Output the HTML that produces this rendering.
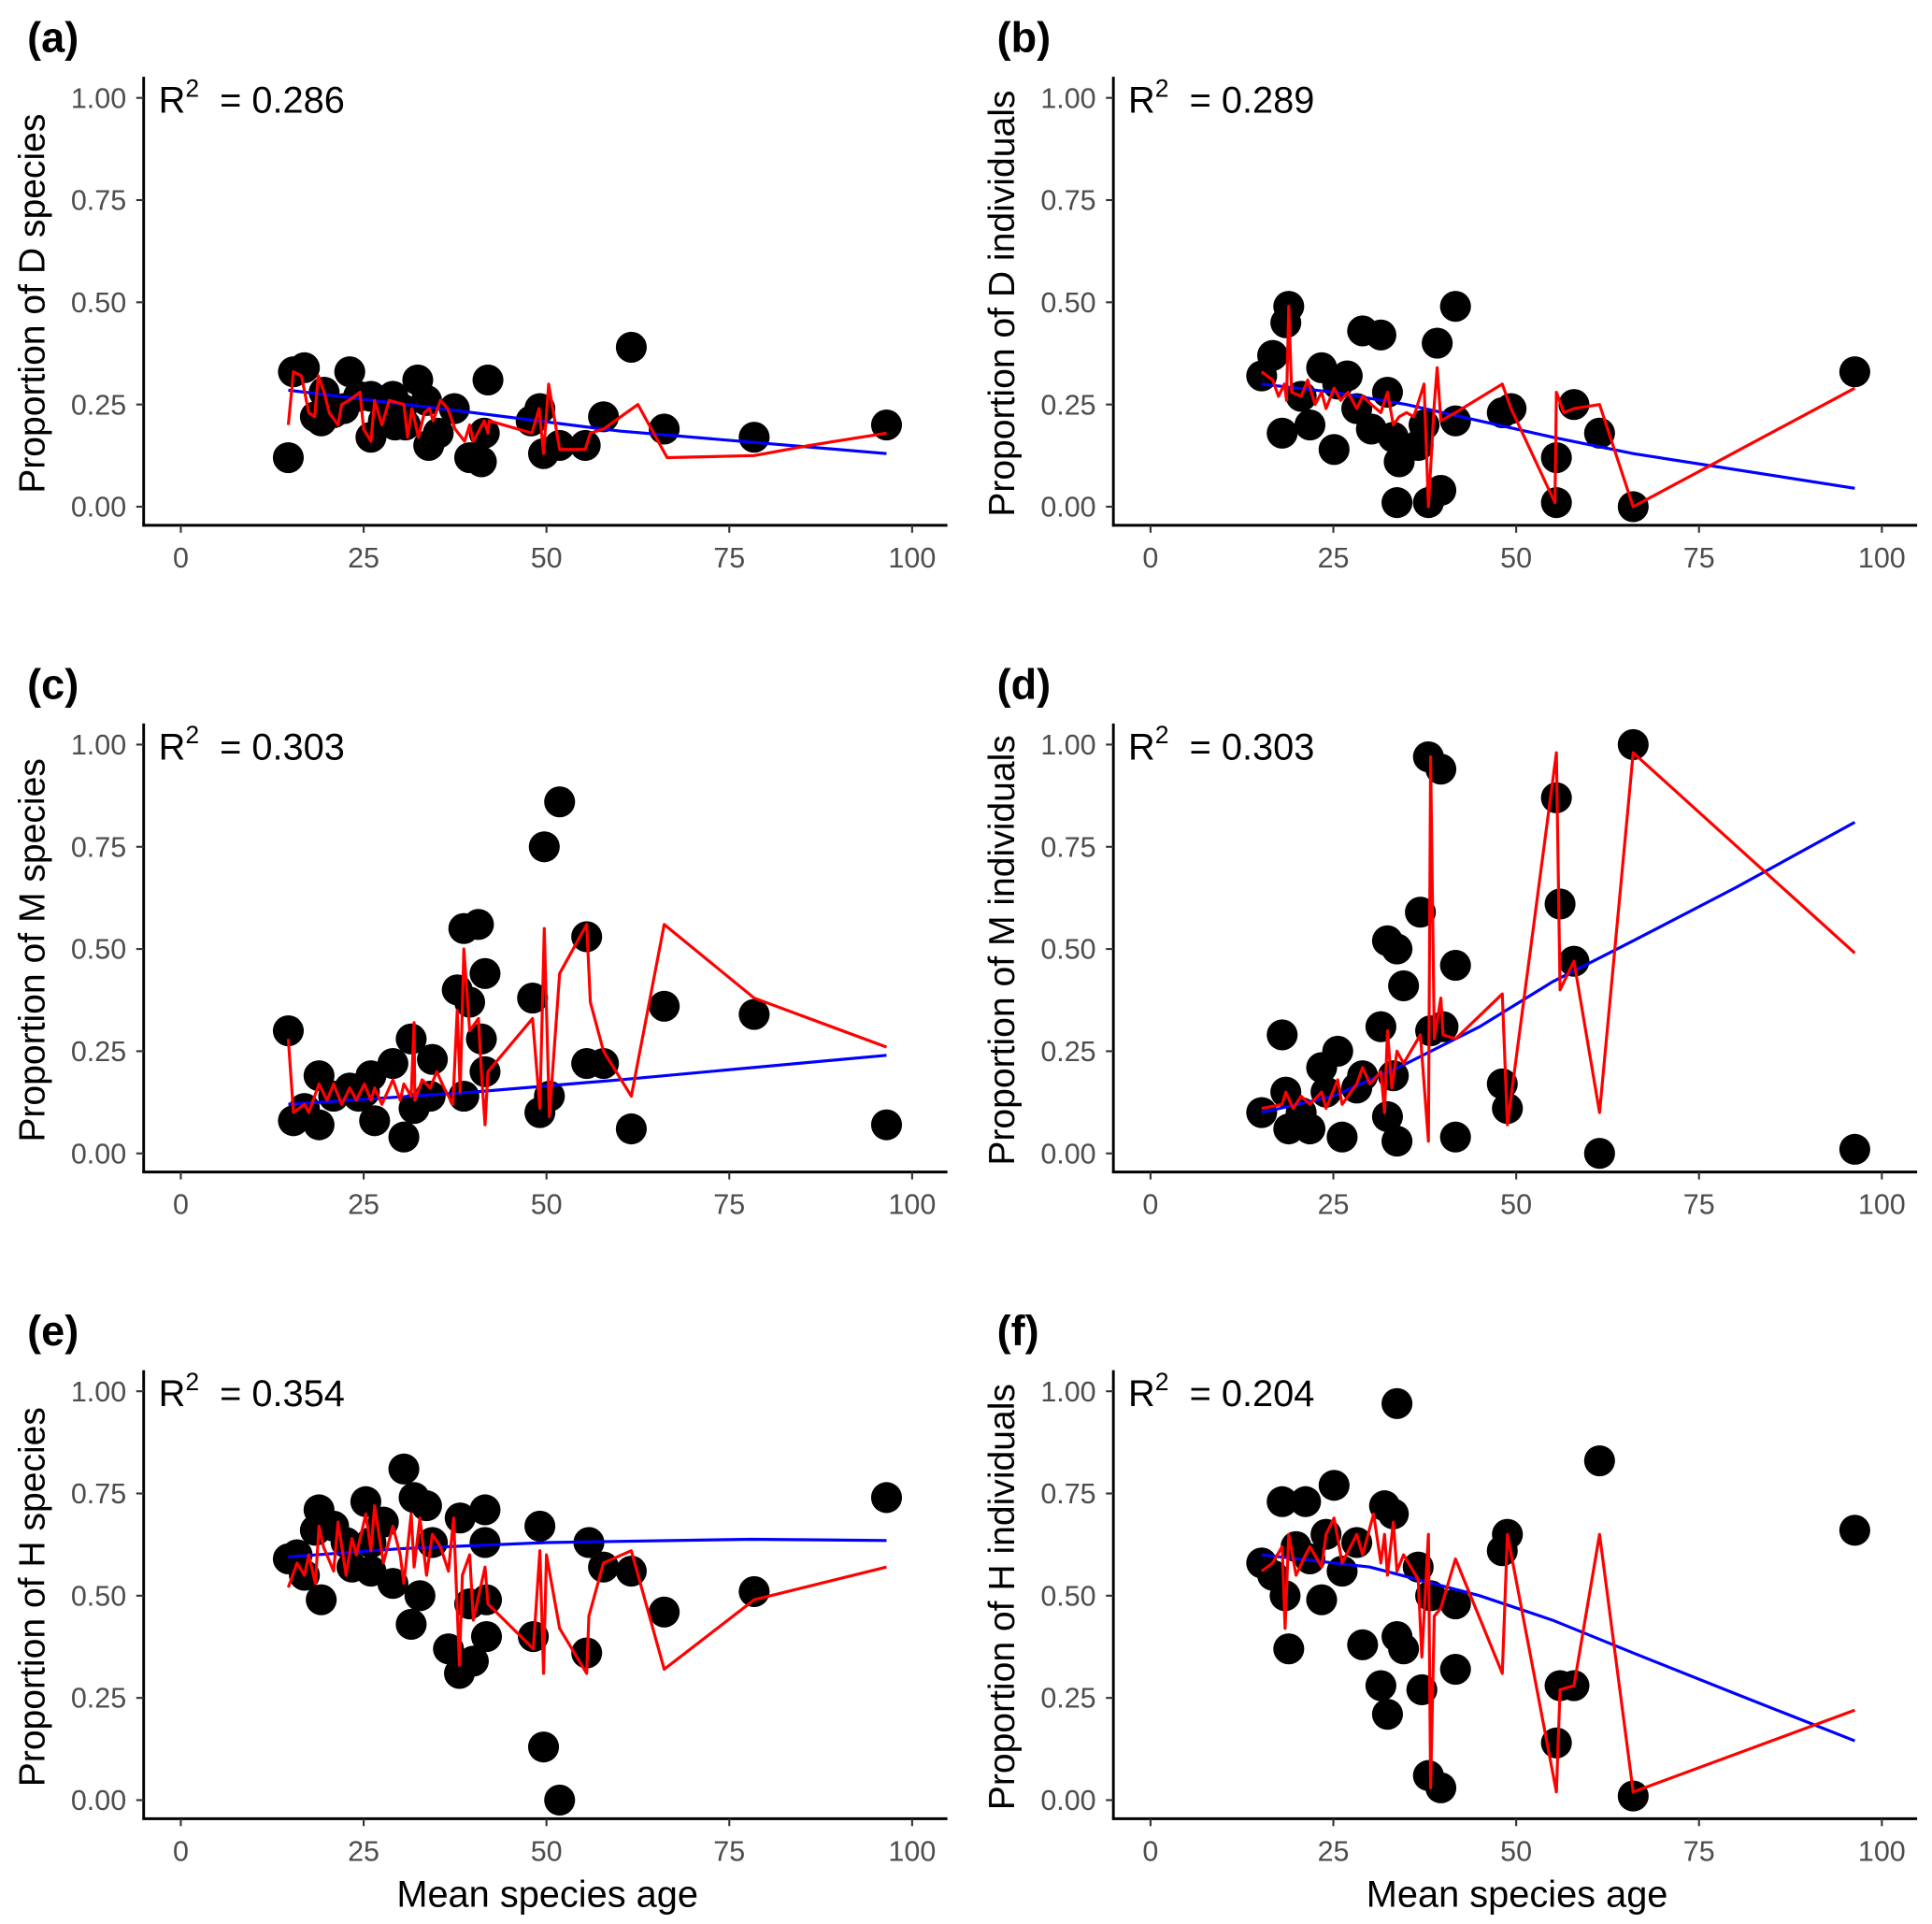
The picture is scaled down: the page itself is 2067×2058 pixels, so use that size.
<!DOCTYPE html>
<html><head><meta charset="utf-8"><style>
html,body{margin:0;padding:0;background:#fff;}
svg{display:block;font-family:"Liberation Sans",Arial,sans-serif;}
</style></head><body>
<svg id="fig" width="2067" height="2058" viewBox="0 0 1560 1553" preserveAspectRatio="none" xmlns="http://www.w3.org/2000/svg"></svg>
<script>
const xTicks=[0,25,50,75,100];
const yTicks=[0,0.25,0.5,0.75,1];
const yTickLabels=["0.00","0.25","0.50","0.75","1.00"];
const panelLetters=["(a)","(b)","(c)","(d)","(e)","(f)"];
const yTitles=["Proportion of D species","Proportion of D individuals","Proportion of M species","Proportion of M individuals","Proportion of H species","Proportion of H individuals"];
const r2Values=["0.286","0.289","0.303","0.303","0.354","0.204"];

const pointsA=[[14.7,.12],[15.4,.33],[16.9,.34],[18.4,.22],[19.6,.28],[20.9,.23],[23.1,.33],[24.3,.27],[26,.17],[27.7,.21],[29,.27],[30.7,.20],[32.4,.31],[33.6,.26],[33.9,.15],[37.4,.24],[39.5,.12],[41.1,.11],[42,.31],[41.5,.18],[47.9,.21],[49.1,.24],[49.6,.13],[51.8,.15],[55.3,.15],[57.8,.22],[61.6,.39],[66.1,.19],[78.4,.17],[96.5,.20],[19.2,.21],[22.3,.24],[26,.27],[29.3,.20],[35.2,.18],[30.2,.24]];
const redA=[[14.7,.20],[15.4,.33],[16.5,.32],[17.5,.23],[18.3,.22],[18.8,.32],[19.6,.28],[20.3,.23],[21.5,.20],[22,.25],[23,.26],[24.5,.28],[25,.19],[26,.16],[26.5,.26],[27.5,.20],[28.5,.26],[30.5,.25],[31,.17],[31.6,.24],[32.5,.17],[33.3,.23],[34,.24],[34.5,.21],[35.5,.26],[36.5,.24],[37.5,.19],[38.8,.16],[39.5,.20],[40,.16],[41.5,.21],[42,.18],[42.2,.21],[48,.18],[49,.24],[49.6,.13],[50.3,.30],[51.8,.14],[55.3,.14],[56,.18],[57.8,.19],[62.5,.25],[66.5,.12],[78.4,.125],[86,.15],[96.5,.18]];
const blueA=[[14.7,.285],[40,.23],[60,.185],[96.5,.13]];

const pointsB=[[15.2,.32],[16.7,.37],[18.9,.49],[18.5,.45],[18,.18],[20.6,.27],[21.8,.20],[23.4,.34],[25.1,.14],[25.6,.30],[26.9,.32],[29,.43],[31.5,.42],[30.2,.19],[32.4,.28],[33.2,.17],[34,.11],[33.7,.01],[36.6,.15],[38,.01],[39.2,.40],[39.7,.04],[41.7,.49],[41.7,.21],[48.1,.23],[49.3,.24],[55.5,.01],[55.5,.12],[57.9,.25],[61.4,.18],[66,0],[96.3,.33],[37.4,.20],[28.2,.24]];
const redB=[[15.2,.33],[16.7,.31],[17.5,.27],[18.3,.30],[18.6,.26],[18.9,.49],[19.3,.28],[20.6,.27],[21.5,.31],[22.5,.25],[23.4,.28],[24,.24],[25.1,.29],[26,.26],[27,.28],[28.2,.24],[29,.27],[30.2,.25],[31.5,.23],[32.4,.28],[33.2,.20],[34,.22],[35,.23],[36,.22],[37.4,.30],[38,0],[38.8,.25],[39.2,.34],[39.7,.21],[41.7,.23],[48.1,.30],[49.3,.24],[55.3,.01],[55.5,.28],[56.5,.23],[57.9,.24],[61.4,.25],[66,0],[96.3,.29]];
const blueB=[[15.2,.30],[25,.28],[35,.25],[45,.21],[55,.17],[66,.13],[96.3,.045]];

const pointsC=[[14.7,.30],[15.4,.08],[16.9,.11],[18.9,.07],[18.9,.19],[20.9,.14],[23.1,.16],[25.1,.15],[26,.19],[26.5,.08],[29,.22],[30.5,.04],[31.5,.28],[31.9,.11],[34.4,.23],[34.1,.14],[37.8,.40],[38.7,.55],[40.7,.56],[38.7,.14],[41.1,.28],[41.6,.44],[41.6,.20],[39.5,.37],[48.1,.38],[49.1,.10],[49.7,.75],[51.8,.86],[50.4,.14],[55.5,.53],[55.5,.22],[57.8,.22],[61.6,.06],[66.1,.36],[78.4,.34],[96.5,.07],[24.3,.14]];
const redC=[[14.7,.28],[15.4,.10],[16.9,.12],[17.5,.10],[18.9,.17],[20,.13],[20.9,.17],[22,.12],[23.1,.16],[24,.13],[25.1,.17],[26,.13],[26.5,.16],[27.5,.12],[29,.18],[30,.13],[30.5,.17],[31.5,.14],[31.9,.32],[32,.13],[33,.18],[34.1,.16],[35,.20],[36,.16],[37.2,.12],[37.8,.35],[38.2,.15],[38.7,.50],[39.5,.30],[40.7,.33],[41.1,.20],[41.6,.07],[42,.20],[48.1,.33],[49.1,.11],[49.7,.55],[50.4,.09],[51.8,.44],[55.5,.56],[56,.37],[57.8,.25],[61.6,.14],[66.1,.56],[78.4,.38],[96.5,.26]];
const blueC=[[14.7,.12],[40,.15],[60,.18],[96.5,.24]];

const pointsD=[[15.2,.10],[18,.29],[18.5,.15],[18.9,.06],[20.6,.10],[21.8,.06],[23.4,.21],[25.6,.25],[26.2,.04],[24,.15],[28.2,.16],[29,.19],[31.5,.31],[32.4,.52],[33.7,.50],[33.2,.19],[32.4,.09],[33.7,.03],[34.6,.41],[36.9,.59],[38,.97],[39.7,.94],[38.3,.30],[40,.31],[41.7,.46],[41.7,.04],[48.1,.17],[48.8,.11],[55.5,.87],[56,.61],[57.9,.47],[61.4,0],[66,1.0],[96.3,.01]];
const redD=[[15.2,.11],[18,.12],[18.5,.15],[19.5,.11],[20.6,.14],[21.8,.12],[23.4,.15],[24,.11],[25.6,.18],[26.2,.12],[28.2,.17],[29,.21],[30,.17],[31.5,.20],[32,.10],[32.4,.30],[33,.16],[33.7,.25],[34.6,.22],[36.9,.29],[38,.03],[38.3,.97],[38.8,.28],[39.7,.38],[40,.29],[41.7,.28],[48.1,.39],[48.8,.07],[55.5,.98],[56,.40],[57.9,.47],[61.4,.10],[66,.98],[96.3,.49]];
const blueD=[[15.2,.10],[25,.14],[35,.22],[45,.31],[55,.42],[66,.52],[80,.65],[96.3,.81]];

const pointsE=[[14.7,.59],[15.9,.60],[16.9,.55],[18.4,.66],[18.9,.71],[19.2,.49],[20.9,.67],[22.6,.63],[23.4,.57],[25.3,.73],[26,.56],[27.7,.68],[29,.53],[30.5,.81],[31.5,.43],[31.9,.74],[33.6,.72],[32.7,.50],[34.4,.63],[36.6,.37],[38.1,.31],[38.2,.69],[39.5,.48],[40,.34],[41.6,.71],[41.6,.63],[41.8,.49],[41.8,.40],[48.2,.40],[49.1,.67],[49.6,.13],[51.8,0],[55.5,.36],[55.8,.63],[57.8,.57],[61.6,.56],[66.1,.46],[78.4,.51],[96.5,.74],[26,.63]];
const redE=[[14.7,.52],[15.9,.58],[16.9,.55],[17.5,.60],[18.4,.53],[18.9,.67],[19.5,.62],[20.9,.56],[21.5,.68],[22.6,.55],[23.4,.64],[24,.60],[25.3,.70],[26,.61],[26.5,.72],[27.7,.58],[29,.67],[30,.60],[30.5,.53],[31.5,.70],[31.9,.57],[32.7,.69],[33.6,.55],[34.4,.65],[35.5,.62],[36.6,.56],[37.3,.69],[38.1,.33],[38.5,.55],[39.5,.60],[40,.44],[41.6,.57],[42,.48],[48.2,.37],[49.1,.61],[49.6,.31],[50,.60],[51.8,.42],[55.5,.31],[55.8,.45],[57.8,.58],[61.6,.61],[66.1,.32],[78.4,.49],[96.5,.57]];
const blueE=[[14.7,.595],[30,.615],[50,.63],[78,.638],[96.5,.635]];

const pointsF=[[15.2,.58],[16.7,.55],[18,.73],[18.4,.50],[18.9,.37],[19.9,.62],[21.2,.73],[21.8,.59],[23.4,.49],[24,.65],[25.1,.77],[26.2,.56],[28.2,.63],[29,.38],[31.5,.28],[32,.72],[32.4,.21],[33.7,.97],[33.7,.40],[34.6,.37],[33.2,.70],[36.6,.57],[37.1,.27],[38,.06],[38.3,.50],[39.7,.03],[41.7,.32],[41.7,.48],[48.1,.61],[48.8,.65],[55.5,.14],[56,.28],[57.9,.28],[61.4,.83],[66,.01],[96.3,.66]];
const redF=[[15.2,.56],[16.7,.58],[18,.62],[18.4,.42],[18.9,.65],[19.9,.55],[21.2,.60],[21.8,.62],[23.4,.57],[24,.65],[25.1,.69],[26.2,.58],[28.2,.65],[29,.60],[30.5,.70],[31.5,.58],[32,.65],[32.4,.55],[33.2,.68],[33.7,.56],[34.6,.60],[36.6,.54],[37.1,.35],[38,.65],[38.3,.03],[38.8,.45],[39.7,.47],[41.7,.59],[48.1,.31],[48.8,.65],[55.5,.02],[56,.27],[57.9,.28],[61.4,.65],[66,.02],[96.3,.22]];
const blueF=[[15.2,.60],[30,.57],[45,.50],[55,.44],[66,.36],[80,.26],[96.3,.145]];

const allPoints=[pointsA,pointsB,pointsC,pointsD,pointsE,pointsF];
const allRed=[redA,redB,redC,redD,redE,redF];
const allBlue=[blueA,blueB,blueC,blueD,blueE,blueF];

const NS="http://www.w3.org/2000/svg";
const svg=document.getElementById('fig');
function mk(tag,attrs,parent){const e=document.createElementNS(NS,tag);for(const k in attrs)e.setAttribute(k,attrs[k]);(parent||svg).appendChild(e);return e;}

for(let p=0;p<6;p++){
  const col=p%2,row=Math.floor(p/2);
  const dx=col*783,dy=row*522;
  const X=v=>146+dx+v*5.905;
  const Y=v=>409+dy-v*330;
  const g=mk('g',{});
  
  
  const ya=mk('line',{x1:116+dx,y1:62+dy,x2:116+dx,y2:425+dy,stroke:'#000','stroke-width':2.2},g);
  
  
  const xa=mk('line',{x1:115+dx,y1:424+dy,x2:765+dx,y2:424+dy,stroke:'#000','stroke-width':2.2},g);
  
  
  yTicks.forEach((t,i)=>{
    mk('line',{x1:110+dx,x2:116+dx,y1:Y(t),y2:Y(t),stroke:'#333','stroke-width':1.6},g);
    const tl=mk('text',{x:102+dx,y:Y(t)+8,'text-anchor':'end','font-size':23,fill:'#4d4d4d'},g);
    tl.textContent=yTickLabels[i];
    
    
  });
  xTicks.forEach(t=>{
    mk('line',{x1:X(t),x2:X(t),y1:424+dy,y2:430+dy,stroke:'#333','stroke-width':1.6},g);
    const tl=mk('text',{x:X(t),y:458+dy,'text-anchor':'middle','font-size':23,fill:'#4d4d4d'},g);
    tl.textContent=String(t);
    
    
  });
  const yt=mk('text',{x:0,y:0,'text-anchor':'middle','font-size':29.5,fill:'#000',transform:`translate(${36+dx},${245+dy}) rotate(-90)`},g);
  yt.textContent=yTitles[p];
  
  
  const pl=mk('text',{x:22+dx,y:42+dy,'font-size':34,'font-weight':'bold',fill:'#000'},g);
  pl.textContent=panelLetters[p];
  
  
  const r=mk('text',{x:128+dx,y:91+dy,'font-size':30,fill:'#000'},g);
  r.innerHTML='R<tspan dy="-13" font-size="20">2</tspan><tspan dy="13">  = '+r2Values[p]+'</tspan>';
  
  
  r.style.whiteSpace='pre';
  allPoints[p].forEach(pt=>{
    const c=mk('circle',{cx:X(pt[0]),cy:Y(pt[1]),r:12.5,fill:'#000'},g);
    
    
  });
  const bl=mk('polyline',{points:allBlue[p].map(q=>X(q[0])+','+Y(q[1])).join(' '),fill:'none',stroke:'#0000ff','stroke-width':2.4},g);
  
  
  const rl=mk('polyline',{points:allRed[p].map(q=>X(q[0])+','+Y(q[1])).join(' '),fill:'none',stroke:'#ff0000','stroke-width':2.4,'stroke-linejoin':'round'},g);
  
  
  if(row===2){
    const xt=mk('text',{x:442+dx,y:1539,'text-anchor':'middle','font-size':30,fill:'#000'},g);
    xt.textContent='Mean species age';
    
    
  }
}
</script>
</body></html>
